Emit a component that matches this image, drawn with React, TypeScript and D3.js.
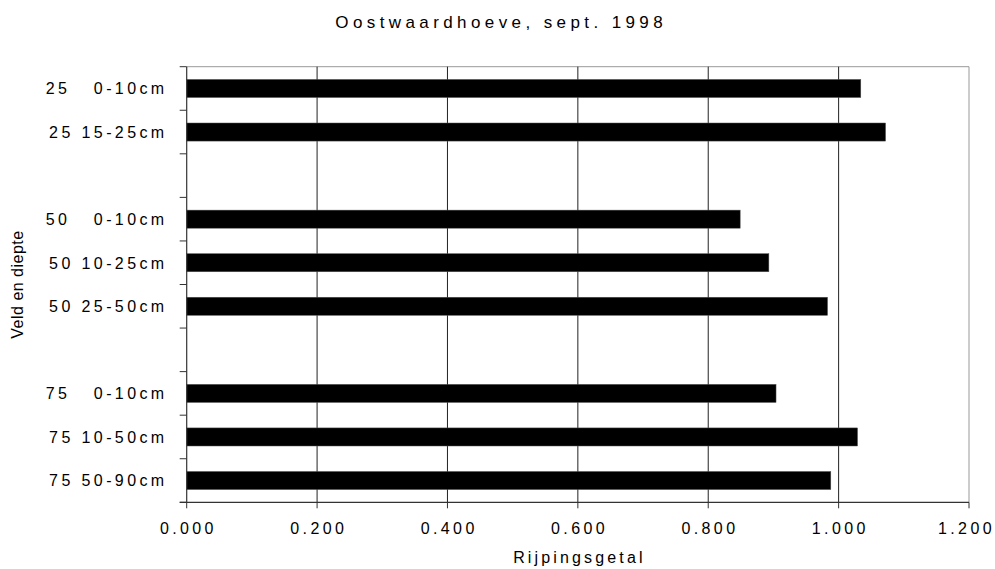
import React from "react";
import * as d3 from "d3";

const categories: string[] = [
  "25   0-10cm",
  "25 15-25cm",
  "",
  "50   0-10cm",
  "50 10-25cm",
  "50 25-50cm",
  "",
  "75   0-10cm",
  "75 10-50cm",
  "75 50-90cm",
];
const values: (number | null)[] = [1.034, 1.072, null, 0.849, 0.893, 0.983, null, 0.904, 1.029, 0.988];
const xTicks: number[] = [0, 0.2, 0.4, 0.6, 0.8, 1.0, 1.2];
const title = "Oostwaardhoeve, sept. 1998";
const xTitle = "Rijpingsgetal";
const yTitle = "Veld en diepte";

const W = 995;
const H = 569;
const left = 186.7;
const right = 969;
const top = 66.7;
const bottom = 502.3;
const FONT = "'Liberation Sans', Arial, sans-serif";

export default function App() {
  const x = d3.scaleLinear().domain([0, 1.2]).range([left, right]);
  const keys = categories.map((_, i) => String(i));
  const y = d3.scaleBand().domain(keys).range([top, bottom]).padding(0);
  const bw = y.bandwidth();
  const barH = bw * 0.415;
  const boundaries = d3.range(categories.length + 1).map((i) => top + i * bw);

  return (
    <svg
      width={W}
      height={H}
      style={{ position: "absolute", left: 0, top: 0, display: "block", background: "#fff" }}
      fontFamily={FONT}
    >
      <rect x={0} y={0} width={W} height={H} fill="#fff" />
      {/* plot border top/right */}
      <line x1={left} y1={top} x2={right} y2={top} stroke="#999" strokeWidth={1} />
      <line x1={right} y1={top} x2={right} y2={bottom} stroke="#999" strokeWidth={1} />
      {/* gridlines */}
      {xTicks.slice(1, -1).map((t) => (
        <line key={"g" + t} x1={x(t)} x2={x(t)} y1={top} y2={bottom} stroke="#222" strokeWidth={1} />
      ))}
      {/* bars */}
      {values.map((v, i) =>
        v == null ? null : (
          <rect
            key={"b" + i}
            x={x(0)}
            y={(y(String(i)) as number) + bw / 2 - barH / 2}
            width={x(v) - x(0)}
            height={barH}
            fill="#000"
            stroke="#555"
            strokeWidth={0.5}
          />
        )
      )}
      {/* axes */}
      <line x1={left} y1={top} x2={left} y2={bottom} stroke="#333" strokeWidth={1.2} />
      <line x1={left - 7} y1={bottom} x2={right} y2={bottom} stroke="#333" strokeWidth={1.2} />
      {boundaries.map((b, i) => (
        <line key={"yt" + i} x1={left - 7} x2={left} y1={b} y2={b} stroke="#333" strokeWidth={1} />
      ))}
      {xTicks.map((t) => (
        <line key={"xt" + t} x1={x(t)} x2={x(t)} y1={bottom} y2={bottom + 6} stroke="#333" strokeWidth={1} />
      ))}
      {/* x tick labels */}
      {xTicks.map((t, i) => (
        <text
          key={"xl" + t}
          x={x(t) + (i === xTicks.length - 1 ? -2.5 : 1.7)}
          y={534}
          textAnchor="middle"
          fontSize={16}
          style={{ letterSpacing: "3.4px" }}
          fill="#000"
        >
          {d3.format(".3f")(t)}
        </text>
      ))}
      {/* y category labels */}
      {categories.map((c, i) =>
        c === "" ? null : (
          <text
            key={"yl" + i}
            x={167.6}
            y={(y(String(i)) as number) + bw / 2 + 5.8}
            textAnchor="end"
            fontSize={16}
            style={{ letterSpacing: "3.4px", whiteSpace: "pre" }}
            fill="#000"
          >
            {c}
          </text>
        )
      )}
      {/* titles */}
      <text x={499 + 2.2} y={28} textAnchor="middle" fontSize={17} style={{ letterSpacing: "4.4px" }} fill="#000">
        {title}
      </text>
      <text x={(left + right) / 2 + 1.6} y={563} textAnchor="middle" fontSize={16} style={{ letterSpacing: "3.15px" }} fill="#000">
        {xTitle}
      </text>
      <text
        transform={`translate(22.5, ${(top + bottom) / 2}) rotate(-90)`}
        textAnchor="middle"
        fontSize={16}
        style={{ letterSpacing: "0.5px" }}
        fill="#000"
      >
        {yTitle}
      </text>
    </svg>
  );
}
